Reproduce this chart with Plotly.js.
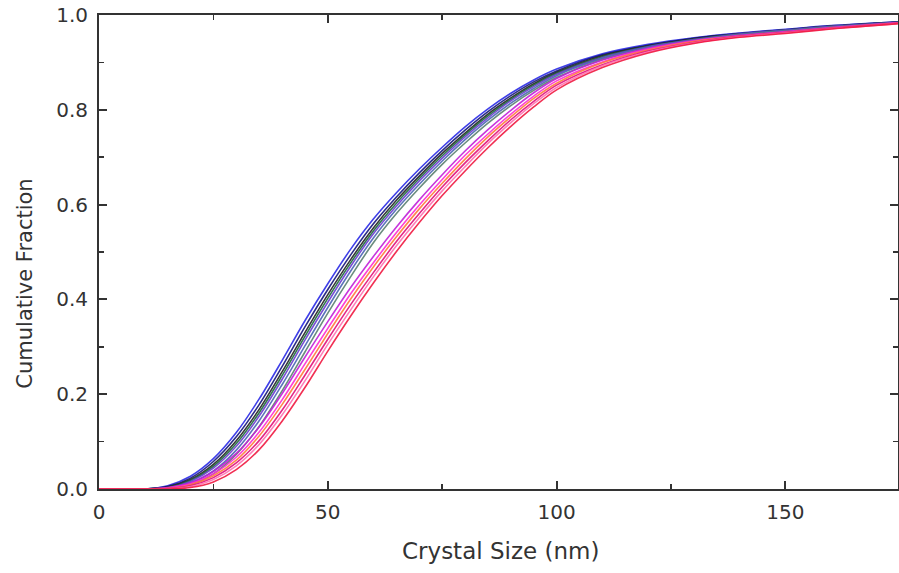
<!DOCTYPE html>
<html>
<head>
<meta charset="utf-8">
<script src="https://cdn.plot.ly/plotly-3.0.1.min.js"></script>
<style>html,body{margin:0;padding:0;background:#fff;overflow:hidden}</style>
</head>
<body>
<div id="chart" style="width:899px;height:573px"></div>
<script>
// Crystal size grid (nm)
const sizes = [0,10,15,20,25,30,35,40,45,50,55,60,65,70,75,80,85,90,95,100,110,120,130,140,150,160,175];

// Left (smaller) group of cumulative curves
const L1 = [0,0,0.007,0.027,0.064,0.119,0.19,0.271,0.355,0.433,0.506,0.57,0.625,0.675,0.721,0.764,0.802,0.835,0.863,0.886,0.918,0.938,0.952,0.962,0.97,0.9775,0.986];
const L2 = [0,0,0.005,0.023,0.058,0.11,0.178,0.258,0.342,0.421,0.494,0.56,0.616,0.667,0.714,0.757,0.796,0.83,0.859,0.882,0.916,0.936,0.951,0.961,0.969,0.977,0.986];
const L3 = [0,0,0.004,0.02,0.052,0.102,0.168,0.247,0.33,0.41,0.484,0.551,0.609,0.66,0.708,0.751,0.791,0.825,0.855,0.879,0.914,0.935,0.95,0.96,0.968,0.976,0.985];
const L4 = [0,0,0.003,0.018,0.048,0.096,0.161,0.239,0.322,0.402,0.477,0.545,0.603,0.655,0.703,0.747,0.787,0.822,0.852,0.877,0.912,0.934,0.949,0.96,0.968,0.976,0.985];
const L5 = [0,0,0.002,0.016,0.044,0.09,0.154,0.231,0.314,0.394,0.47,0.539,0.597,0.65,0.698,0.743,0.783,0.819,0.849,0.875,0.91,0.933,0.948,0.96,0.968,0.976,0.985];
const L6 = [0,0,0.001,0.013,0.038,0.082,0.144,0.22,0.302,0.383,0.46,0.53,0.59,0.643,0.692,0.737,0.778,0.814,0.845,0.872,0.908,0.932,0.947,0.959,0.967,0.975,0.984];
const L7 = [0,0,0,0.009,0.032,0.073,0.132,0.207,0.289,0.371,0.448,0.52,0.581,0.635,0.685,0.73,0.772,0.809,0.841,0.868,0.906,0.93,0.946,0.958,0.966,0.9745,0.984];

// Right (larger) group of cumulative curves
const R1 = [0,0,0.003,0.013,0.037,0.075,0.131,0.201,0.278,0.353,0.425,0.491,0.553,0.61,0.663,0.713,0.758,0.799,0.836,0.866,0.905,0.93,0.946,0.957,0.965,0.9735,0.984];
const R2 = [0,0,0.002,0.011,0.032,0.067,0.12,0.188,0.264,0.339,0.412,0.478,0.541,0.599,0.653,0.704,0.749,0.791,0.829,0.861,0.901,0.928,0.945,0.956,0.964,0.973,0.984];
const R3 = [0,0,0.001,0.009,0.028,0.061,0.112,0.178,0.252,0.328,0.401,0.469,0.532,0.591,0.645,0.696,0.743,0.785,0.824,0.856,0.899,0.926,0.944,0.955,0.963,0.972,0.983];
const R4 = [0,0,0.001,0.007,0.024,0.055,0.102,0.166,0.24,0.316,0.389,0.457,0.522,0.581,0.637,0.688,0.735,0.779,0.818,0.852,0.895,0.924,0.942,0.955,0.963,0.972,0.983];
const R5 = [0,0,0,0.005,0.02,0.049,0.094,0.156,0.228,0.305,0.378,0.448,0.513,0.573,0.629,0.68,0.729,0.773,0.813,0.847,0.893,0.922,0.941,0.954,0.962,0.971,0.982];
const R6 = [0,0,0,0.003,0.015,0.041,0.083,0.143,0.214,0.291,0.365,0.435,0.501,0.562,0.619,0.671,0.72,0.765,0.806,0.842,0.889,0.92,0.94,0.953,0.961,0.9705,0.982];

const series = [L1,L2,L3,L4,L5,L6,L7,R1,R2,R3,R4,R5,R6];
const colors = ['#2a2ae6','#14147a','#222222','#1d6a3c','#6a3cd0','#4a64b4','#5a8070',
                '#c020d8','#ff2ad0','#ff7a3a','#e0107a','#ff70b0','#f01840'];

const traces = series.map((ys, i) => ({
  x: sizes, y: ys, type: 'scatter', mode: 'lines',
  line: {color: colors[i], width: 1.6, shape: 'spline', smoothing: 0.9},
  opacity: 0.9,
  hoverinfo: 'skip', showlegend: false
}));

const tickFont = {family: 'DejaVu Sans, sans-serif', size: 20, color: '#333'};

const layout = {
  width: 899, height: 573,
  margin: {l: 99, r: 1, t: 15, b: 84},
  paper_bgcolor: '#fff', plot_bgcolor: '#fff',
  showlegend: false,
  xaxis: {
    range: [0, 174.6], tickvals: [0,50,100,150], ticktext: ['0','50','100','150'],
    showgrid: false, zeroline: false,
    showline: true, linewidth: 2, linecolor: '#333', mirror: 'ticks',
    ticks: 'inside', ticklen: 8, tickwidth: 2, tickcolor: '#333',
    minor: {tickvals: [25,75,125,175], ticks: 'inside', ticklen: 5, tickwidth: 1.5, tickcolor: '#333', showgrid: false},
    tickfont: tickFont, ticklabelstandoff: 4
  },
  yaxis: {
    range: [0, 1], tickvals: [0,0.2,0.4,0.6,0.8,1.0], ticktext: ['0.0','0.2','0.4','0.6','0.8','1.0'],
    showgrid: false, zeroline: false,
    showline: true, linewidth: 2, linecolor: '#333', mirror: 'ticks',
    ticks: 'inside', ticklen: 8, tickwidth: 2, tickcolor: '#333',
    minor: {tickvals: [0.1,0.3,0.5,0.7,0.9], ticks: 'inside', ticklen: 5, tickwidth: 1.5, tickcolor: '#333', showgrid: false},
    tickfont: tickFont, ticklabelstandoff: 5
  },
  annotations: [
    {text: 'Crystal Size (nm)', xref: 'paper', yref: 'paper', x: 0.502, y: -0.131,
     xanchor: 'center', yanchor: 'middle', showarrow: false,
     font: {family: 'DejaVu Sans, sans-serif', size: 23, color: '#333'}},
    {text: 'Cumulative Fraction', xref: 'paper', yref: 'paper', x: -0.093, y: 0.4325,
     xanchor: 'center', yanchor: 'middle', showarrow: false, textangle: -90,
     font: {family: 'DejaVu Sans, sans-serif', size: 21, color: '#333'}}
  ]
};

Plotly.newPlot('chart', traces, layout, {staticPlot: true, displayModeBar: false});
</script>
</body>
</html>
